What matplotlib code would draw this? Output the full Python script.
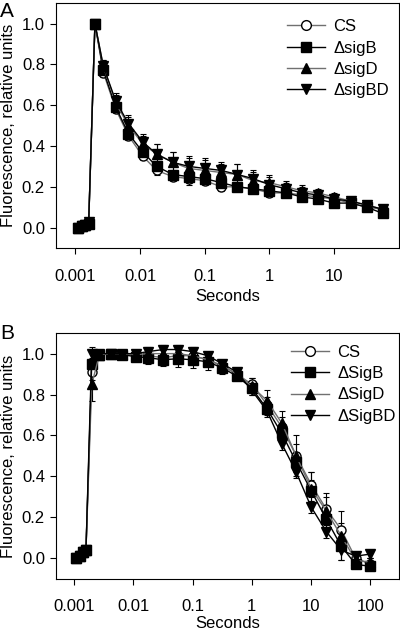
import matplotlib.pyplot as plt
from matplotlib.lines import Line2D

plt.rcParams['font.family'] = ['Liberation Sans', 'DejaVu Sans']
plt.rcParams['font.size'] = 12

# time points (s)
t_a = [0.0011, 0.00125, 0.0014, 0.0016, 0.002, 0.0027, 0.0042, 0.0066, 0.011, 0.018, 0.032, 0.056,
       0.1, 0.18, 0.32, 0.56, 1, 1.8, 3.2, 5.6, 10, 18, 32, 56]
t_b = t_a + [100]

# panel A
a_cs = [0.0, 0.005, 0.01, 0.02, 1.0, 0.76, 0.58, 0.45, 0.35, 0.28, 0.25, 0.24,
        0.23, 0.20, 0.20, 0.19, 0.17, 0.17, 0.16, 0.15, 0.14, 0.12, 0.10, 0.09]
a_b = [0.0, 0.006, 0.012, 0.02, 1.0, 0.77, 0.59, 0.46, 0.37, 0.30, 0.26, 0.25,
       0.24, 0.22, 0.20, 0.19, 0.18, 0.17, 0.15, 0.14, 0.12, 0.12, 0.10, 0.07]
a_d = [0.0, 0.006, 0.014, 0.022, 1.0, 0.79, 0.61, 0.50, 0.41, 0.36, 0.32, 0.29,
       0.28, 0.27, 0.26, 0.23, 0.22, 0.20, 0.18, 0.17, 0.15, 0.13, 0.11, 0.09]
a_bd = [0.0, 0.008, 0.015, 0.025, 1.0, 0.79, 0.62, 0.51, 0.42, 0.36, 0.32, 0.30,
        0.29, 0.28, 0.26, 0.24, 0.21, 0.19, 0.17, 0.16, 0.14, 0.13, 0.11, 0.09]
a_cs_err = [0.01, 0.01, 0.01, 0.01, 0.0, 0.02, 0.02, 0.02, 0.02, 0.02, 0.02, 0.03,
            0.02, 0.02, 0.02, 0.02, 0.02, 0.02, 0.02, 0.02, 0.02, 0.02, 0.02, 0.02]
a_b_err = [0.01, 0.01, 0.01, 0.01, 0.0, 0.02, 0.02, 0.02, 0.02, 0.02, 0.02, 0.03,
           0.02, 0.02, 0.02, 0.02, 0.02, 0.02, 0.02, 0.02, 0.02, 0.02, 0.02, 0.02]
a_d_err = [0.01, 0.01, 0.01, 0.01, 0.0, 0.03, 0.04, 0.04, 0.04, 0.05, 0.05, 0.05,
           0.05, 0.04, 0.05, 0.04, 0.04, 0.03, 0.03, 0.02, 0.02, 0.02, 0.02, 0.02]
a_bd_err = [0.01, 0.01, 0.01, 0.01, 0.0, 0.03, 0.04, 0.04, 0.04, 0.05, 0.05, 0.05,
            0.05, 0.04, 0.05, 0.04, 0.04, 0.03, 0.03, 0.02, 0.02, 0.02, 0.02, 0.02]

# panel B
b_cs = [0.0, 0.01, 0.03, 0.04, 0.91, 0.995, 1.0, 1.0, 0.99, 0.99, 0.98, 0.99,
        0.99, 0.97, 0.94, 0.90, 0.85, 0.75, 0.64, 0.50, 0.36, 0.24, 0.14, 0.0, -0.03]
b_b = [0.0, 0.01, 0.03, 0.04, 0.95, 0.995, 1.0, 0.995, 0.985, 0.98, 0.97, 0.975,
       0.97, 0.96, 0.93, 0.89, 0.83, 0.73, 0.61, 0.47, 0.33, 0.19, 0.06, -0.03, -0.04]
b_d = [0.0, 0.01, 0.03, 0.04, 0.85, 0.995, 1.0, 1.0, 0.995, 1.0, 1.0, 1.0,
       0.99, 0.97, 0.94, 0.90, 0.84, 0.77, 0.66, 0.50, 0.34, 0.23, 0.11, -0.01, -0.02]
b_bd = [0.0, 0.01, 0.03, 0.04, 1.0, 1.0, 1.0, 1.0, 1.0, 1.01, 1.02, 1.02,
        1.01, 0.99, 0.95, 0.91, 0.82, 0.72, 0.56, 0.42, 0.25, 0.13, 0.04, 0.01, 0.02]
b_cs_err = [0.01, 0.01, 0.01, 0.01, 0.04, 0.01, 0.01, 0.01, 0.02, 0.02, 0.02, 0.02,
            0.03, 0.03, 0.03, 0.02, 0.03, 0.04, 0.05, 0.06, 0.06, 0.06, 0.09, 0.03, 0.03]
b_b_err = [0.01, 0.01, 0.01, 0.01, 0.03, 0.01, 0.01, 0.01, 0.02, 0.03, 0.03, 0.04,
           0.04, 0.04, 0.03, 0.02, 0.02, 0.03, 0.04, 0.05, 0.05, 0.05, 0.07, 0.02, 0.02]
b_d_err = [0.01, 0.01, 0.01, 0.01, 0.08, 0.01, 0.01, 0.01, 0.02, 0.02, 0.02, 0.03,
           0.03, 0.03, 0.03, 0.02, 0.04, 0.05, 0.06, 0.10, 0.08, 0.09, 0.06, 0.03, 0.02]
b_bd_err = [0.01, 0.01, 0.01, 0.01, 0.03, 0.01, 0.01, 0.01, 0.02, 0.02, 0.02, 0.02,
            0.02, 0.02, 0.02, 0.02, 0.02, 0.03, 0.03, 0.03, 0.03, 0.03, 0.05, 0.02, 0.02]

labels_a = ["CS", "\u0394sigB", "\u0394sigD", "\u0394sigBD"]
labels_b = ["CS", "\u0394SigB", "\u0394SigD", "\u0394SigBD"]

styles = [
    dict(marker="o", mfc="white", mec="black", color="#707070"),
    dict(marker="s", mfc="black", mec="black", color="black"),
    dict(marker="^", mfc="black", mec="black", color="#707070"),
    dict(marker="v", mfc="black", mec="black", color="black"),
]

fig = plt.figure(figsize=(4, 6.31), dpi=100)
ax_a = fig.add_axes([0.14, 0.607, 0.857, 0.388])
ax_b = fig.add_axes([0.14, 0.083, 0.857, 0.389])


def draw(ax, t, series, errs, labels, xmax, leg_xy, xlabelpad):
    handles = []
    for y, e, lab, st in zip(series, errs, labels, styles):
        ax.errorbar(t, y, yerr=e, lw=1.0, ms=6.5, capsize=2.5,
                    elinewidth=0.8, capthick=0.8, ecolor="black", **st)
        handles.append(Line2D([], [], lw=1.0, ms=7, label=lab, **st))
    ax.set_xscale("log")
    ax.set_xlim(0.0005, xmax)
    ax.set_ylim(-0.1, 1.1)
    ax.set_yticks([0.0, 0.2, 0.4, 0.6, 0.8, 1.0])
    ax.set_yticklabels(["0.0", "0.2", "0.4", "0.6", "0.8", "1.0"])
    ticks = [0.001, 0.01, 0.1, 1, 10, 100]
    ticks = [k for k in ticks if k < xmax * 0.9]
    ax.set_xticks(ticks)
    ax.set_xticklabels([f"{k:g}" for k in ticks])
    ax.xaxis.set_minor_locator(plt.NullLocator())
    ax.tick_params(axis="x", length=4, pad=11, labelsize=12)
    ax.tick_params(axis="y", length=4, pad=4, labelsize=12)
    ax.set_xlabel("Seconds", fontsize=12, labelpad=xlabelpad)
    ax.set_ylabel("Fluorescence, relative units", fontsize=12, labelpad=4)
    ax.legend(handles=handles, loc="upper left", frameon=False, fontsize=12,
              handlelength=2.3, handletextpad=0.5, labelspacing=0.38,
              borderpad=0, borderaxespad=0, bbox_to_anchor=leg_xy)


draw(ax_a, t_a, [a_cs, a_b, a_d, a_bd], [a_cs_err, a_b_err, a_d_err, a_bd_err],
     labels_a, 100, (0.673, 0.934), 4)
draw(ax_b, t_b, [b_cs, b_b, b_d, b_bd], [b_cs_err, b_b_err, b_d_err, b_bd_err],
     labels_b, 300, (0.685, 0.953), 1)

fig.text(0.0, 0.997, "A", fontsize=15, va="top", ha="left")
fig.text(0.0, 0.487, "B", fontsize=15, va="top", ha="left")

fig.savefig("out.png", dpi=100)
